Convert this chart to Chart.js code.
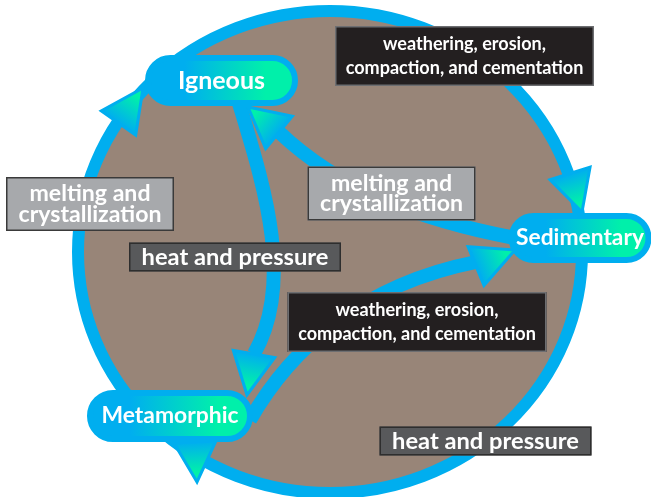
<!DOCTYPE html>
<html lang="en">
<head>
  <meta charset="UTF-8" />
  <title>Rock cycle</title>
  <script src="https://cdn.jsdelivr.net/npm/chart.js"></script>
  <style>
    html, body { margin: 0; padding: 0; background: #fff; }
    #wrap { width: 651px; height: 497px; position: relative; }
  </style>
</head>
<body>
  <div id="wrap"><canvas id="chart"></canvas></div>
  <script>
    // rock types (pills) in diagram units
    const rockNames = ["Igneous", "Sedimentary", "Metamorphic"];
    const rockX = [221.5, 580, 170];
    const rockY = [80.5, 238, 416];

    // process labels
    const processText = [
      ["weathering, erosion,", "compaction, and cementation"],
      ["melting and", "crystallization"],
      ["melting and", "crystallization"],
      ["heat and pressure"],
      ["weathering, erosion,", "compaction, and cementation"],
      ["heat and pressure"]
    ];
    const processKind = ["erosion", "melting", "melting", "heat", "erosion", "heat"];
    const processX = [464.5, 90, 391.5, 235, 417, 485.5];
    const processY = [56, 204, 193.5, 257, 322, 441];

    // the outer cycle
    const cycleX = 330, cycleY = 252, cycleRX = 258, cycleRY = 247;

    // inner flows (bezier: start, c1, c2, end)
    const flowX = [[238, 262, 296, 254], [515, 420, 340, 279], [250, 290, 360, 476]];
    const flowY = [[100, 180, 280, 354], [238, 220, 190, 132], [420, 350, 285, 262]];

    // arrow heads: tip and base middle
    const arrowTipX = [143, 248, 582, 515, 247, 197];
    const arrowTipY = [88, 107, 212, 250, 395, 482];
    const arrowBaseX = [118.5, 279, 570, 476, 254, 195];
    const arrowBaseY = [123, 132.5, 173.5, 266, 354, 442];

    const BLUE = "#00aeef", GREEN = "#00f0aa", BROWN = "#988578";
    const FAMILY = "Lato, 'Open Sans', sans-serif";
    const pillSize = { w: [147, 137, 160], h: [45, 44, 46], textW: [87, 128, 137] };
    const boxStyle = {
      erosion: { fill: "#231f20", line: "#6d6e71", w: 259, h: 60, textW: 238, gap: 24 },
      melting: { fill: "#a7a9ac", line: "#3a3a3a", w: 168, h: 54, textW: 143, gap: 20.5 },
      heat: { fill: "#58595b", line: "#2e2e2e", w: 212, h: 29, textW: 187, gap: 0 }
    };

    function fitSize(ctx, lines, width) {
      ctx.font = "700 20px " + FAMILY;
      const w = Math.max(...lines.map(l => ctx.measureText(l).width));
      return 20 * width / w;
    }

    function pillPath(ctx, x, y, w, h) {
      const r = h / 2;
      ctx.beginPath();
      ctx.moveTo(x - w / 2 + r, y - r);
      ctx.lineTo(x + w / 2 - r, y - r);
      ctx.arc(x + w / 2 - r, y, r, -Math.PI / 2, Math.PI / 2);
      ctx.lineTo(x - w / 2 + r, y + r);
      ctx.arc(x - w / 2 + r, y, r, Math.PI / 2, Math.PI * 1.5);
      ctx.closePath();
    }

    const rockCycle = {
      id: "rockCycle",
      afterDatasetsDraw(chart) {
        const ctx = chart.ctx, xs = chart.scales.x, ys = chart.scales.y;
        const px = v => xs.getPixelForValue(v), py = v => ys.getPixelForValue(v);
        ctx.save();

        // cycle ring
        const cx = px(cycleX), cy = py(cycleY);
        const rx = px(cycleX + cycleRX) - cx, ry = Math.abs(py(cycleY + cycleRY) - cy);
        ctx.beginPath();
        ctx.ellipse(cx, cy, rx - 6, ry - 6, 0, 0, Math.PI * 2);
        ctx.fillStyle = BROWN;
        ctx.fill();
        ctx.lineWidth = 12;
        ctx.strokeStyle = BLUE;
        ctx.stroke();

        // inner flows
        flowX.forEach((fx, i) => {
          const fy = flowY[i];
          ctx.beginPath();
          ctx.moveTo(px(fx[0]), py(fy[0]));
          ctx.bezierCurveTo(px(fx[1]), py(fy[1]), px(fx[2]), py(fy[2]), px(fx[3]), py(fy[3]));
          ctx.lineWidth = 14;
          ctx.strokeStyle = BLUE;
          ctx.stroke();
        });

        // process boxes
        const boxes = chart.getDatasetMeta(1).data;
        boxes.forEach((pt, i) => {
          const st = boxStyle[processKind[i]];
          ctx.fillStyle = st.fill;
          ctx.fillRect(pt.x - st.w / 2, pt.y - st.h / 2, st.w, st.h);
          ctx.lineWidth = 1.5;
          ctx.strokeStyle = st.line;
          ctx.strokeRect(pt.x - st.w / 2 + 0.75, pt.y - st.h / 2 + 0.75, st.w - 1.5, st.h - 1.5);
          const lines = processText[i];
          const size = fitSize(ctx, lines, st.textW);
          ctx.font = "700 " + size + "px " + FAMILY;
          ctx.fillStyle = "#fff";
          ctx.textAlign = "center";
          ctx.textBaseline = "middle";
          lines.forEach((l, k) => {
            ctx.fillText(l, pt.x, pt.y + (k - (lines.length - 1) / 2) * st.gap);
          });
        });

        // arrow heads
        arrowTipX.forEach((tx, i) => {
          const t = { x: px(tx), y: py(arrowTipY[i]) };
          const b = { x: px(arrowBaseX[i]), y: py(arrowBaseY[i]) };
          const len = Math.hypot(t.x - b.x, t.y - b.y);
          const nx = -(t.y - b.y) / len, ny = (t.x - b.x) / len;
          const hw = 21;
          ctx.beginPath();
          ctx.moveTo(t.x, t.y);
          ctx.lineTo(b.x + nx * hw, b.y + ny * hw);
          ctx.lineTo(b.x - nx * hw, b.y - ny * hw);
          ctx.closePath();
          const g = ctx.createLinearGradient(b.x, b.y, t.x, t.y);
          g.addColorStop(0, BLUE);
          g.addColorStop(0.75, GREEN);
          ctx.fillStyle = g;
          ctx.fill();
          ctx.lineWidth = 3;
          ctx.lineJoin = "miter";
          ctx.strokeStyle = BLUE;
          ctx.stroke();
        });

        // rock pills
        const pills = chart.getDatasetMeta(0).data;
        pills.forEach((pt, i) => {
          const w = pillSize.w[i], h = pillSize.h[i];
          pillPath(ctx, pt.x, pt.y, w, h);
          const g = ctx.createLinearGradient(pt.x - w / 2, 0, pt.x + w / 2, 0);
          g.addColorStop(0, BLUE);
          g.addColorStop(0.25, BLUE);
          g.addColorStop(0.8, GREEN);
          g.addColorStop(1, GREEN);
          ctx.fillStyle = g;
          ctx.fill();
          ctx.lineWidth = 6;
          ctx.strokeStyle = BLUE;
          ctx.stroke();
          const size = fitSize(ctx, [rockNames[i]], pillSize.textW[i]);
          ctx.font = "700 " + size + "px " + FAMILY;
          ctx.fillStyle = "#fff";
          ctx.textAlign = "center";
          ctx.textBaseline = "middle";
          ctx.fillText(rockNames[i], pt.x, pt.y);
        });
        ctx.restore();
      }
    };

    new Chart(document.getElementById("chart"), {
      type: "scatter",
      data: {
        datasets: [
          { label: "Rock types", data: rockX.map((x, i) => ({ x: x, y: rockY[i] })), pointRadius: 0 },
          { label: "Processes", data: processX.map((x, i) => ({ x: x, y: processY[i] })), pointRadius: 0 }
        ]
      },
      options: {
        responsive: true,
        maintainAspectRatio: false,
        animation: false,
        layout: { padding: 0 },
        plugins: { legend: { display: false }, tooltip: { enabled: false } },
        scales: {
          x: { type: "linear", min: 0, max: 651, display: false },
          y: { type: "linear", min: 0, max: 497, reverse: true, display: false }
        }
      },
      plugins: [rockCycle]
    });
  </script>
</body>
</html>
